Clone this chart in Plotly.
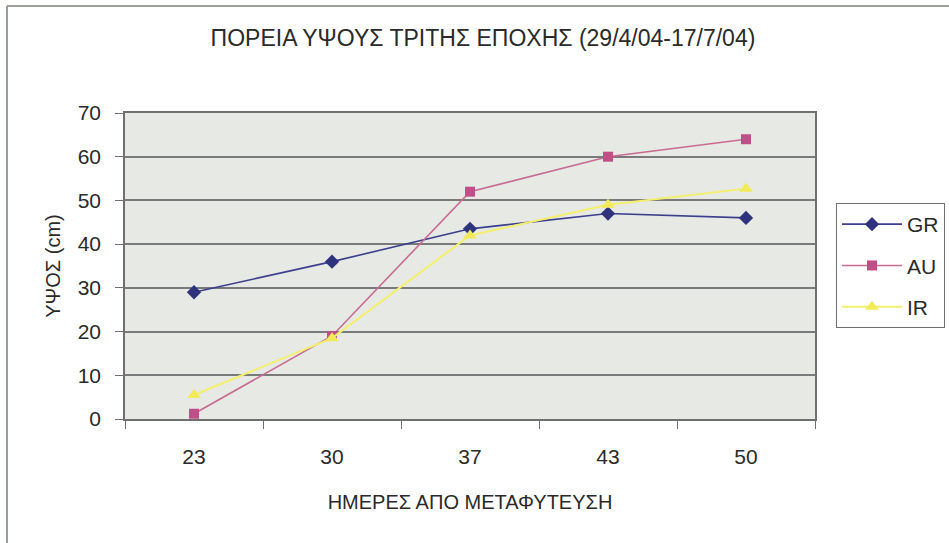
import plotly.graph_objects as go

# Days after transplanting (category labels on the x axis)
days = ["23", "30", "37", "43", "50"]

# Plant height (cm) per variety
gr_height = [29, 36, 43.5, 47, 46]
au_height = [1.2, 19, 52, 60, 64]
ir_height = [5.5, 18.5, 42, 49, 52.7]

y_ticks = [0, 10, 20, 30, 40, 50, 60, 70]

W, H = 949, 543
L, R, T, B = 125, 134, 113, 124
pw, ph = W - L - R, H - T - B

def px_x(px):
    return (px - L) / pw

def px_y(py):
    return (H - B - py) / ph

font = "Liberation Sans, Arial, sans-serif"
ink = "#2a2a2a"

fig = go.Figure()
fig.add_trace(go.Scatter(
    x=days, y=gr_height, name="GR", mode="lines+markers", legendgroup="gr",
    line=dict(color="#3b3f8c", width=1.6),
    marker=dict(symbol="diamond", size=11, color="#2f337e"),
))
fig.add_trace(go.Scatter(
    x=days, y=au_height, name="AU", mode="lines+markers", legendgroup="au",
    line=dict(color="#c76b93", width=1.6),
    marker=dict(symbol="square", size=10, color="#bf4f86"),
))
fig.add_trace(go.Scatter(
    x=days, y=ir_height, name="IR", mode="lines+markers", legendgroup="ir",
    line=dict(color="#f4ef6c", width=2),
    marker=dict(symbol="triangle-up", size=12, color="#f2ea58"),
))

fig.update_layout(
    width=W, height=H,
    margin=dict(l=L, r=R, t=T, b=B, autoexpand=False),
    paper_bgcolor="white",
    plot_bgcolor="#e7e9e5",
    font=dict(family=font, color=ink),
    title=dict(
        text="ΠΟΡΕΙΑ ΥΨΟΥΣ ΤΡΙΤΗΣ ΕΠΟΧΗΣ (29/4/04-17/7/04)",
        font=dict(size=23, color=ink),
        x=483 / W, xanchor="center", y=1 - 38 / H, yanchor="middle",
    ),
    xaxis=dict(
        type="category",
        range=[-0.5, 4.5],
        tickson="boundaries",
        ticks="outside", ticklen=8, tickcolor="#707070",
        ticklabelstandoff=18,
        showgrid=False,
        showline=True, linecolor="#707070", linewidth=1.5, mirror=True,
        tickfont=dict(size=21, color=ink),
        title=dict(text="ΗΜΕΡΕΣ ΑΠΟ ΜΕΤΑΦΥΤΕΥΣΗ",
                   font=dict(size=20, color=ink),
                   standoff=28),
    ),
    yaxis=dict(
        range=[0, 70],
        tickvals=y_ticks,
        ticks="outside", ticklen=8, tickcolor="#707070",
        ticklabelstandoff=10,
        showgrid=True, gridcolor="#7a7a7a", gridwidth=1.5,
        zeroline=False,
        showline=True, linecolor="#707070", linewidth=1.5, mirror=True,
        tickfont=dict(size=21, color=ink),
        title=dict(text="ΥΨΟΣ (cm)", font=dict(size=20, color=ink),
                   standoff=12),
    ),
    legend=dict(
        x=px_x(836), xanchor="left",
        y=px_y(203), yanchor="top",
        bgcolor="white", bordercolor="#707070", borderwidth=1,
        font=dict(size=21, color=ink),
        tracegroupgap=11, itemwidth=60,
        entrywidth=112,
    ),
    showlegend=True,
)

# Outer chart frame (left and top edges)
fig.add_shape(type="line", xref="paper", yref="paper",
              x0=px_x(7), x1=px_x(7), y0=px_y(543), y1=px_y(6),
              line=dict(color="#9aa09a", width=2))
fig.add_shape(type="line", xref="paper", yref="paper",
              x0=px_x(7), x1=px_x(949), y0=px_y(6), y1=px_y(6),
              line=dict(color="#9aa09a", width=2))

fig.write_html("out.html")
